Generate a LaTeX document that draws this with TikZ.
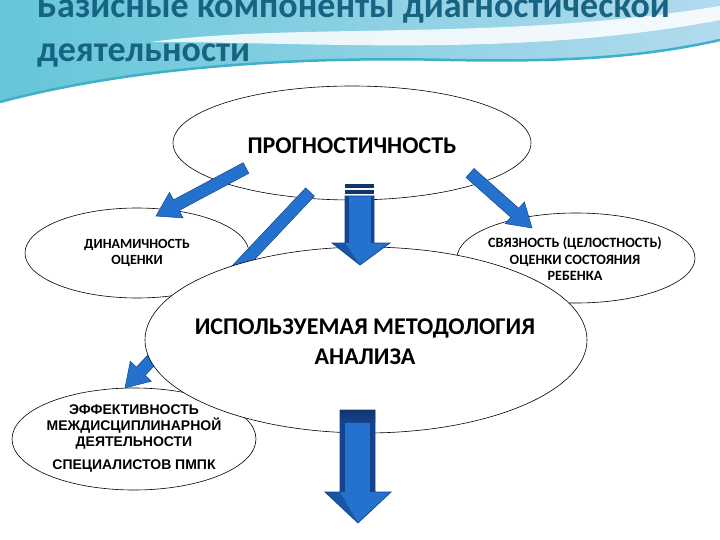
\documentclass[tikz,border=0pt]{standalone}
\usepackage{fontspec}
\setmainfont{Carlito}
\newfontfamily\arialf{Liberation Sans}
\usetikzlibrary{shapes.geometric,calc}
\definecolor{titlecol}{RGB}{22,100,130}
\definecolor{arrblue}{RGB}{36,114,206}
\definecolor{arrdark}{RGB}{20,68,140}
\definecolor{arrnavy}{RGB}{16,52,110}
\definecolor{bandL}{RGB}{100,198,216}
\definecolor{bandR}{RGB}{178,218,238}
\definecolor{stripe}{RGB}{62,176,200}
\tikzset{
  oval/.style={ellipse, draw=black, line width=0.6pt, fill=white, inner sep=0pt},
  ovaltext/.style={inner sep=0pt, align=center},
  diag/.style={fill=arrblue, draw=arrdark, line width=0.5pt, line join=miter},
  blockarr/.style={fill=arrblue, draw=arrdark, line width=0.7pt, line join=miter},
  titletext/.style={anchor=base west, inner sep=0pt, text=titlecol, font=\fontsize{36}{42}\selectfont\bfseries},
}
\newcommand\diagarrow[2]{%
  \coordinate (ahb) at ($(#2)!23pt!(#1)$);
  \path[diag] ($(#1)!6pt!90:(#2)$) -- ($(ahb)!6pt!-90:(#1)$) -- ($(ahb)!14.5pt!-90:(#1)$) -- (#2)
    -- ($(ahb)!14.5pt!90:(#1)$) -- ($(ahb)!6pt!90:(#1)$) -- ($(#1)!6pt!-90:(#2)$) -- cycle;}
\begin{document}
\begin{tikzpicture}[x=1pt,y=-1pt]
\useasboundingbox (0,0) rectangle (720,540);
\clip (0,0) rectangle (720,540);
\fill[white] (0,0) rectangle (720,540);
% title band
\shade[left color=bandL, right color=bandR] (0,0) -- (720,0) -- (720,40)
  .. controls (640,58) and (560,62) .. (450,60) .. controls (330,57) and (150,62) .. (0,102) -- cycle;
\fill[white, opacity=0.85] (150,42) .. controls (300,22) and (500,42) .. (720,6) -- (720,20)
  .. controls (520,58) and (320,42) .. (150,42) -- cycle;
\draw[stripe, line width=2.5pt] (720,40) .. controls (640,58) and (560,62) .. (450,60)
  .. controls (330,57) and (150,62) .. (0,102);
\node[titletext] (title1) at (37,18) {Базисные компоненты диагностической};
\node[titletext] (title2) at (37,62) {деятельности};
% ellipses
\node[oval, minimum width=358pt, minimum height=114pt] (prog) at (352,143) {};
\node[ovaltext, font=\fontsize{24}{28}\selectfont\bfseries] (progt) at (352,146) {ПРОГНОСТИЧНОСТЬ};
\node[oval, minimum width=224pt, minimum height=90pt] (dyn) at (137,253) {};
\node[ovaltext, font=\fontsize{14}{16}\selectfont\bfseries] (dynt) at (dyn) {ДИНАМИЧНОСТЬ\\ОЦЕНКИ};
\node[oval, minimum width=238pt, minimum height=90pt] (svy) at (576,258) {};
\node[ovaltext, font=\fontsize{14.2}{16.5}\selectfont\bfseries] (svyt) at (575,259) {СВЯЗНОСТЬ (ЦЕЛОСТНОСТЬ)\\ОЦЕНКИ СОСТОЯНИЯ\\РЕБЕНКА};
\node[oval, minimum width=244pt, minimum height=102pt] (eff) at (134,439) {};
\node[ovaltext, font=\arialf\fontsize{14}{16}\selectfont\bfseries] (efft) at (eff) {ЭФФЕКТИВНОСТЬ\\МЕЖДИСЦИПЛИНАРНОЙ\\ДЕЯТЕЛЬНОСТИ\\[7pt]СПЕЦИАЛИСТОВ ПМПК};
% diagonal arrows
\coordinate (d1s) at (246,168); \coordinate (d1e) at (156,216);
\coordinate (d2s) at (310,192); \coordinate (d2e) at (125,388);
\coordinate (d3s) at (470,173); \coordinate (d3e) at (532,228);
\diagarrow{d1s}{d1e}
\diagarrow{d2s}{d2e}
\diagarrow{d3s}{d3e}
% central ellipse
\node[oval, minimum width=442pt, minimum height=186pt] (meth) at (366,340) {};
\node[ovaltext, font=\fontsize{24}{30}\selectfont\bfseries] (metht) at (365,342) {ИСПОЛЬЗУЕМАЯ МЕТОДОЛОГИЯ\\АНАЛИЗА};
% vertical block arrow 1
\coordinate (v1tip) at (360,265);
\path[blockarr] (345,196) -- (374,196) -- (374,243) -- (390,243) -- (v1tip) -- (332,243) -- (345,243) -- cycle;
\fill[arrnavy] (345,184) rectangle (374,188);
\fill[arrnavy] (345,190) rectangle (374,194);
\fill[arrdark] (345,196) rectangle (348.5,243);
\fill[arrdark] (370.5,196) rectangle (374,243);
\fill[arrdark, opacity=0.6] (332,243) -- (345,243) -- (v1tip) -- cycle;
% vertical block arrow 2
\coordinate (v2tip) at (358,523);
\path[blockarr] (340,410) -- (375,410) -- (375,492) -- (391,492) -- (v2tip) -- (325,492) -- (340,492) -- cycle;
\shade[top color=arrnavy, bottom color=arrdark] (340,410) rectangle (375,422);
\fill[arrdark] (340,422) rectangle (345,492);
\fill[arrdark] (370,422) rectangle (375,492);
\fill[arrdark, opacity=0.6] (325,492) -- (340,492) -- (v2tip) -- cycle;
\end{tikzpicture}
\end{document}
